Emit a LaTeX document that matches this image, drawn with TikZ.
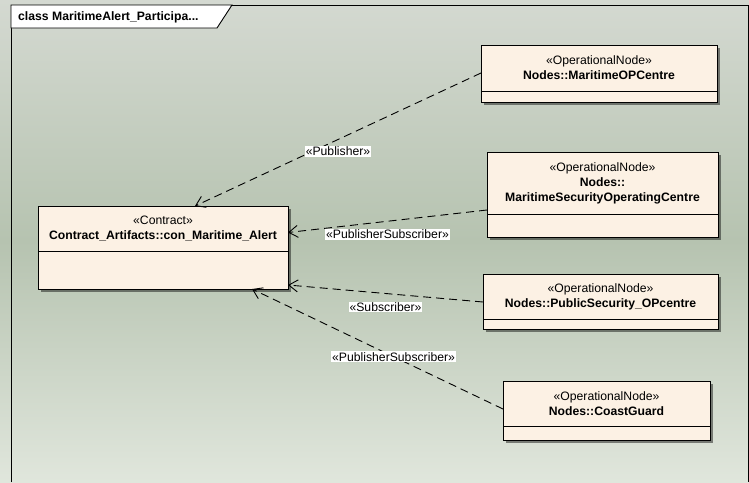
\documentclass[tikz,border=0pt]{standalone}
\usepackage{fontspec}
\setmainfont{Liberation Sans}
\usetikzlibrary{positioning,arrows.meta,shadows}

\definecolor{boxfill}{RGB}{252,241,228}
\definecolor{bgtop}{RGB}{212,217,209}
\definecolor{bgmid}{RGB}{182,195,176}
\definecolor{bgbot}{RGB}{224,230,220}

\begin{document}
\begin{tikzpicture}[x=1pt,y=-1pt,
    classbox/.style={draw=black,fill=boxfill,line width=0.9pt,align=center,
      inner sep=0pt,outer sep=0pt,font=\fontsize{12.2}{15}\selectfont,
      drop shadow={shadow xshift=3pt,shadow yshift=-3pt,fill=black,opacity=.45}},
    depend/.style={line width=0.9pt,dash pattern=on 8pt off 5pt,
      -{Straight Barb[length=9pt,width=12pt]}},
    lbl/.style={fill=white,inner sep=1pt,font=\fontsize{12.2}{14}\selectfont}]
  \useasboundingbox (0,0) rectangle (749,482);
  \shade[top color=bgtop,bottom color=bgbot,middle color=bgmid] (0,0) rectangle (749,482);
  % frame
  \draw[line width=0.9pt] (11,482) -- (11,5) -- (748,5) -- (748,482);
  \draw[fill=white,line width=0.9pt] (11,5) -- (232,5) -- (217,28) -- (11,28) -- cycle;
  \node[anchor=west,inner sep=0pt,font=\bfseries\fontsize{12.2}{14}\selectfont] (title) at (18,17)
    {class MaritimeAlert\_Participa...};
  % classes
  \node[classbox,minimum width=250pt,minimum height=45pt] (con) at (163,228.5)
    {«Contract»\\\textbf{Contract\_Artifacts::con\_Maritime\_Alert}};
  \node[classbox,minimum width=250pt,minimum height=38pt,below=0pt of con] (conb) {};
  \node[classbox,minimum width=236pt,minimum height=46pt] (mop) at (599,68)
    {«OperationalNode»\\\textbf{Nodes::MaritimeOPCentre}};
  \node[classbox,minimum width=236pt,minimum height=11pt,below=0pt of mop] (mopb) {};
  \node[classbox,minimum width=231pt,minimum height=62pt] (msoc) at (602.5,183)
    {«OperationalNode»\\\textbf{Nodes::}\\\textbf{MaritimeSecurityOperatingCentre}};
  \node[classbox,minimum width=231pt,minimum height=23pt,below=0pt of msoc] (msocb) {};
  \node[classbox,minimum width=235pt,minimum height=45pt] (psop) at (600.5,296.5)
    {«OperationalNode»\\\textbf{Nodes::PublicSecurity\_OPcentre}};
  \node[classbox,minimum width=235pt,minimum height=10pt,below=0pt of psop] (psopb) {};
  \node[classbox,minimum width=207pt,minimum height=45pt] (cg) at (606.5,403.5)
    {«OperationalNode»\\\textbf{Nodes::CoastGuard}};
  \node[classbox,minimum width=207pt,minimum height=14pt,below=0pt of cg] (cgb) {};
  % dependencies
  \draw[depend] ([yshift=-5pt]mop.west) -- node[lbl,pos=.5,yshift=-12pt] (l1) {«Publisher»}
    (195,0 |- con.north);
  \draw[depend] ([yshift=-27pt]msoc.west) -- node[lbl,pos=.5,yshift=-13pt] (l2) {«PublisherSubscriber»}
    ([yshift=-4pt]con.east);
  \draw[depend] ([yshift=-5.5pt]psop.west) -- node[lbl,pos=.5,yshift=-13.5pt] (l3) {«Subscriber»}
    ([yshift=-15pt]conb.east);
  \draw[depend] ([yshift=-5.5pt]cg.west) -- node[lbl,pos=.436] (l4) {«PublisherSubscriber»}
    (252,0 |- conb.south);
\end{tikzpicture}
\end{document}
